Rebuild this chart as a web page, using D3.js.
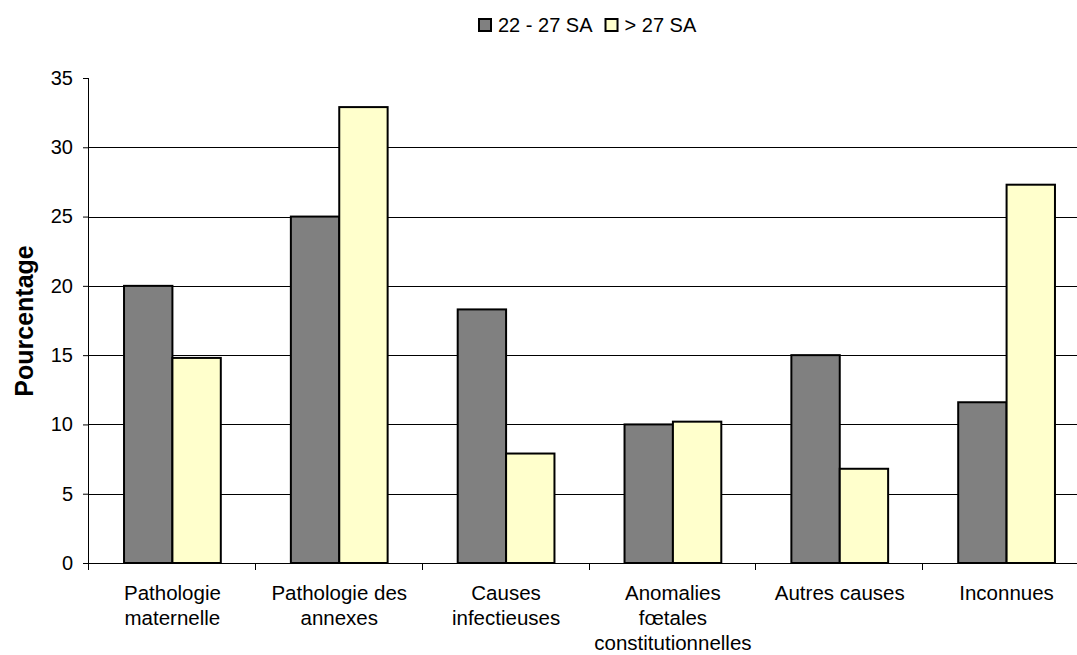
<!DOCTYPE html>
<html>
<head>
<meta charset="utf-8">
<script src="https://cdn.jsdelivr.net/npm/d3@7"></script>
<style>
  html, body { margin: 0; padding: 0; background: #fff; }
  svg { display: block; font-family: "Liberation Sans", Arial, sans-serif; }
</style>
</head>
<body>
<div id="chart"></div>
<script>
// Données
const categories = [
  ["Pathologie", "maternelle"],
  ["Pathologie des", "annexes"],
  ["Causes", "infectieuses"],
  ["Anomalies", "fœtales", "constitutionnelles"],
  ["Autres causes"],
  ["Inconnues"]
]
const seriesNames = ["22 - 27 SA", "> 27 SA"]
const values2227 = [20, 25, 18.3, 10, 15, 11.6]
const valuesSup27 = [14.8, 32.9, 7.9, 10.2, 6.8, 27.3]
const yTicks = [0, 5, 10, 15, 20, 25, 30, 35]
const colors = ["#808080", "#FFFFCC"]

const width = 1077, height = 655
// le graphique déborde à droite (coupé dans l'original)
const margin = { top: 78, right: -13, bottom: 92, left: 89 }
const innerWidth = width - margin.left - margin.right
const innerHeight = height - margin.top - margin.bottom

const svg = d3.select("#chart").append("svg")
  .attr("width", width).attr("height", height)

const g = svg.append("g").attr("transform", `translate(${margin.left},${margin.top})`)

const x = d3.scaleBand().domain(d3.range(categories.length)).range([0, innerWidth])
const y = d3.scaleLinear().domain([0, 35]).range([innerHeight, 0])
const barW = x.bandwidth() * 0.29

// Grille
g.selectAll(".grid").data(yTicks.filter(t => t > 0 && t < 35)).join("line")
  .attr("x1", 0).attr("x2", innerWidth)
  .attr("y1", d => Math.round(y(d)) + 0.5).attr("y2", d => Math.round(y(d)) + 0.5)
  .attr("stroke", "#000").attr("stroke-width", 1)

// Barres
const rows = categories.map((c, i) => [values2227[i], valuesSup27[i]])
rows.forEach((vals, i) => {
  vals.forEach((v, s) => {
    const cx = x(i) + x.bandwidth() / 2
    g.append("rect")
      .attr("x", cx - barW + s * barW)
      .attr("y", y(v))
      .attr("width", barW)
      .attr("height", innerHeight - y(v))
      .attr("fill", colors[s])
      .attr("stroke", "#000").attr("stroke-width", 2)
  })
})

// Axe Y
const yAxis = g.append("g")
  .call(d3.axisLeft(y).tickValues(yTicks).tickSize(6).tickPadding(10))
yAxis.select(".domain").attr("stroke", "#000").attr("d", `M-0.5,${innerHeight}V0.5`)
yAxis.selectAll("text").attr("font-size", 20).attr("fill", "#000").attr("font-family", "Liberation Sans, Arial, sans-serif")

// Axe X
const xAxisG = g.append("g").attr("transform", `translate(0,${innerHeight})`)
xAxisG.append("line").attr("x1", 0).attr("x2", innerWidth).attr("y1", 0.5).attr("y2", 0.5)
  .attr("stroke", "#000")
xAxisG.selectAll(".tk").data(d3.range(categories.length + 1)).join("line")
  .attr("x1", d => Math.round(d * x.step()) - 0.5).attr("x2", d => Math.round(d * x.step()) - 0.5)
  .attr("y1", 0).attr("y2", 7)
  .attr("stroke", "#000")

categories.forEach((lines, i) => {
  const cx = x(i) + x.bandwidth() / 2
  const t = xAxisG.append("text")
    .attr("x", cx)
    .attr("y", 37)
    .attr("text-anchor", "middle")
    .attr("font-size", 20.5)
  lines.forEach((l, k) => {
    t.append("tspan").attr("x", cx).attr("dy", k === 0 ? 0 : 25).text(l)
  })
})

// Titre axe Y
svg.append("text")
  .attr("transform", `translate(33,${margin.top + 243}) rotate(-90)`)
  .attr("text-anchor", "middle")
  .attr("font-size", 25).attr("font-weight", "bold")
  .text("Pourcentage")

// Légende
const legend = svg.append("g").attr("transform", "translate(478,18)")
let lx = 0
seriesNames.forEach((name, s) => {
  legend.append("rect").attr("x", lx + 1).attr("y", 1).attr("width", 12).attr("height", 12)
    .attr("fill", colors[s]).attr("stroke", "#000").attr("stroke-width", 2)
  const t = legend.append("text").attr("x", lx + 20).attr("y", 14).attr("font-size", 20).text(name)
  lx += 20 + t.node().getComputedTextLength() + 12
})
</script>
</body>
</html>
